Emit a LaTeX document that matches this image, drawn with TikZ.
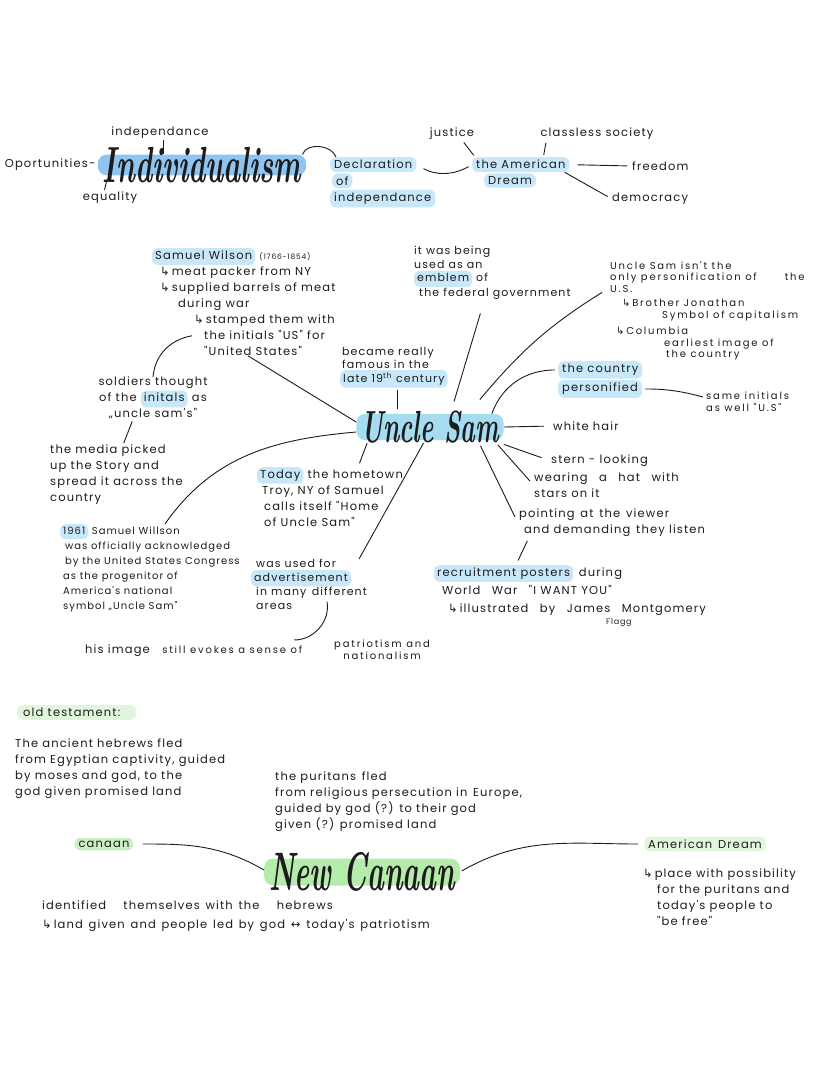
\documentclass[tikz,border=0pt]{standalone}
\usepackage{fontspec}
\usetikzlibrary{positioning}
\newfontfamily\handfont[LetterSpace=10.0]{Poppins}
\newfontfamily\widehand[LetterSpace=18.0]{Poppins}
\newfontfamily\arrowfont{DejaVu Sans}
\definecolor{inkDark}{HTML}{1C1C1C}
\definecolor{hlBlue}{HTML}{C8E7F8}
\definecolor{hlDeep}{HTML}{8FC4F1}
\definecolor{hlCyan}{HTML}{A6DCF2}
\definecolor{hlGreen}{HTML}{B6ECAB}
\definecolor{hlMint}{HTML}{C9F0C2}
\definecolor{hlPale}{HTML}{E2F6DE}
\newcommand{\hilite}[2][hlBlue]{\tikz[baseline]\node[anchor=base,fill=#1,rounded corners=5pt,inner xsep=3pt,inner ysep=2.5pt,text=inkDark]{\vphantom{Ay}#2};}
\newcommand{\turnarr}{{\arrowfont ↳}\,}
\newcommand{\tallword}[2]{\scalebox{1}[#1]{#2}}
\tikzset{
  note/.style={font=\handfont\fontsize{11.5}{16}\selectfont, text=inkDark, align=left, inner sep=0pt, anchor=north west},
  tight note/.style={note, font=\handfont\fontsize{11}{13.5}\selectfont},
  dense note/.style={note, font=\widehand\fontsize{10}{11.5}\selectfont},
  hlnode/.style={note, fill=hlBlue, rounded corners=6pt, inner xsep=4pt, inner ysep=3pt},
  headline/.style={font=\rmfamily\bfseries\itshape\fontsize{#1}{#1}\selectfont, text=inkDark, rounded corners=9pt, inner xsep=5pt},
  link/.style={draw=inkDark, line width=0.9pt},
}
\begin{document}
\begin{tikzpicture}[x=1pt,y=-1pt]
\fill[white] (0,0) rectangle (828,1069);
\useasboundingbox (0,0) rectangle (828,1069);

% individualism and the american dream
\node[headline=29, fill=hlDeep, inner ysep=-7.5pt] (indiv) at (202,165) {\tallword{1.75}{Individualism}};
\node[note, anchor=center] (indep) at (160,133) {independance};
\node[note, anchor=east, xshift=-2pt] (opport) at (indiv.west) {Oportunities-};
\node[note, anchor=center] (equal) at (110,198) {equality};
\node[hlnode] (declA) at (330,157) {Declaration};
\node[hlnode, below=1pt of declA.south west, anchor=north west, xshift=2pt] (declB) {of};
\node[hlnode, below=1pt of declB.south west, anchor=north west, xshift=-2pt] (declC) {independance};
\node[hlnode] (dreamA) at (472,157) {the American};
\node[hlnode, below=1pt of dreamA.south west, anchor=north west, xshift=12pt] (dreamB) {Dream};
\node[note, anchor=center] (justice) at (452,134) {justice};
\node[note, anchor=center] (classless) at (597,134) {classless society};
\node[note, anchor=west] (freedom) at (632,166) {freedom};
\node[note, anchor=west] (democracy) at (612,199) {democracy};

\draw[link, shorten <=1pt] ([xshift=3pt]indep.south) -- ([xshift=3pt]indep.south |- indiv.north);
\draw[link, shorten <=2pt, shorten >=6pt] ([xshift=-6pt]equal.north) -- ([xshift=-2pt]equal.north |- indiv.south);
\draw[link] ([xshift=-4pt]indiv.north east) to[out=70,in=110] ([xshift=6pt]declA.north west);
\draw[link, shorten <=8pt, shorten >=4pt] (declA.east) to[out=-30,in=210] (dreamA.west);
\draw[link, shorten <=3pt, shorten >=2pt] ([xshift=10pt]justice.south) -- ([xshift=3pt]dreamA.north west);
\draw[link, shorten <=3pt, shorten >=2pt] ([xshift=6pt]classless.south west) -- ([xshift=3pt]classless.south west |- dreamA.north);
\draw[link, shorten <=8pt, shorten >=5pt] (dreamA.east) -- (freedom.west);
\draw[link, shorten >=5pt] ([xshift=-5pt]dreamA.south east) -- (democracy.west);

% uncle sam
\node[headline=25, fill=hlCyan, inner ysep=-3pt] (uncle) at (430,427) {\tallword{1.8}{Uncle Sam}};
\node[note] (wilson) at (152,248) {\hilite{Samuel Wilson} {\fontsize{7.5}{8}\selectfont(1766-1854)}\\
  \hspace*{8pt}\turnarr meat packer from NY\\
  \hspace*{8pt}\turnarr supplied barrels of meat\\
  \hspace*{26pt}during war\\
  \hspace*{42pt}\turnarr stamped them with\\
  \hspace*{52pt}the initials "US" for\\
  \hspace*{52pt}"United States"};
\node[note, align=center, anchor=north] (soldiers) at (153,377) {soldiers thought\\of the \hilite{initals} as\\„uncle sam's"};
\node[note] (media) at (50,445) {the media picked\\up the Story and\\spread it across the\\country};
\node[tight note] (famous) at (340,347) {\hspace*{2pt}became really\\\hspace*{2pt}famous in the\\\hilite{late 19\textsuperscript{th} century}};
\node[tight note] (emblem) at (414,246) {it was being\\used as an\\\hilite{emblem} of\\\hspace*{5pt}the federal government};
\node[dense note] (isnt) at (610,261) {Uncle Sam isn't the\\only personification of\hspace{28pt}the\\U.S.};
\node[dense note] (brother) at (622,299) {\turnarr Brother Jonathan\\\hspace*{40pt}Symbol of capitalism};
\node[dense note] (columbia) at (616,327) {\turnarr Columbia\\\hspace*{48pt}earliest image of\\\hspace*{50pt}the country};
\node[hlnode] (countryA) at (558,361) {the country};
\node[hlnode, below=1pt of countryA.south west, anchor=north west] (countryB) {personified};
\node[dense note] (same) at (706,392) {same initials\\as well "U.S"};
\node[note, anchor=west] (white) at (553,426) {white hair};
\node[note, anchor=west] (stern) at (551,461) {stern - looking};
\node[note] (hat) at (534,473) {wearing\quad a\quad hat\quad with\\stars on it};
\node[note] (point) at (519,509) {pointing\enspace at\enspace the\enspace viewer\\\hspace*{5pt}and demanding\enspace they listen};
\node[note] (recruit) at (434,565) {\hilite{recruitment posters}\enspace during\\[2pt]
  \hspace*{8pt}World\quad War\quad "I WANT YOU"\\[2pt]
  \hspace*{14pt}\turnarr illustrated\quad by\quad James\quad Montgomery\\[-4pt]
  \hspace*{172pt}{\fontsize{8}{9}\selectfont Flagg}};
\node[note] (today) at (257,467) {\hilite{Today} the hometown\\\hspace*{5pt}Troy, NY of Samuel\\\hspace*{7pt}calls itself "Home\\\hspace*{7pt}of Uncle Sam"};
\node[tight note] (advert) at (251,559) {\hspace*{5pt}was used for\\\hilite{advertisement}\\\hspace*{5pt}in many\enspace different\\\hspace*{5pt}areas};
\node[note, font=\handfont\fontsize{10}{15}\selectfont] (settle) at (60,524) {\hilite{1961} Samuel Willson\\
  \hspace*{5pt}was officially acknowledged\\
  \hspace*{5pt}by the United States Congress\\
  \hspace*{3pt}as the progenitor of\\
  \hspace*{3pt}America's national\\
  \hspace*{3pt}symbol „Uncle Sam"};
\node[note, anchor=west] (hisA) at (85,651) {his image};
\node[dense note, right=12pt of hisA.base east, anchor=base west] (hisB) {still evokes a sense of};
\node[dense note, align=center, anchor=north] (hisC) at (382,640) {patriotism and\\nationalism};

\draw[link] ([xshift=4pt]wilson.south) -- ([yshift=5pt]uncle.west);
\draw[link] ([shift={(40pt,20pt)}]wilson.south west) to[out=190,in=85] (soldiers.north);
\draw[link, shorten <=2pt, shorten >=2pt] ([xshift=-20pt]soldiers.south) -- ([xshift=73pt]media.north west);
\draw[link, shorten <=2pt, shorten >=5pt] ([xshift=4pt]famous.south) -- ([xshift=4pt]famous.south |- uncle.north);
\draw[link] ([xshift=-12pt,yshift=-14pt]emblem.south) -- ([xshift=24pt,yshift=12pt]uncle.north);
\draw[link] ([xshift=-8pt]isnt.south west) to[out=212,in=50] ([xshift=-24pt,yshift=14pt]uncle.north east);
\draw[link, shorten >=3pt] ([xshift=-12pt]uncle.north east) to[out=70,in=180] (countryA.west);
\draw[link, shorten <=3pt, shorten >=3pt] (countryB.east) to[out=0,in=165] ([yshift=4pt]same.west);
\draw[link, shorten >=9pt] (uncle.east) -- (white.west);
\draw[link, shorten >=10pt] ([yshift=-4pt]uncle.south east) -- (stern.west);
\draw[link, shorten <=6pt, shorten >=6pt] ([xshift=-10pt]uncle.south east) -- (hat.west);
\draw[link, shorten <=6pt] ([xshift=-26pt]uncle.south east) -- ([xshift=-4pt,yshift=-8pt]point.north west);
\draw[link, shorten <=4pt, shorten >=5pt] ([xshift=10pt]point.south west) -- ([xshift=82pt]recruit.north west);
\draw[link, shorten <=4pt, shorten >=3pt] ([xshift=28pt]today.north) -- ([xshift=12pt]uncle.south west);
\draw[link, shorten <=3pt] ([xshift=-5pt]uncle.south) -- ([xshift=-8pt]advert.north east);
\draw[link] ([shift={(18pt,8pt)}]advert.south) to[out=-80,in=0] ([shift={(-8pt,6pt)}]hisB.north east);
\draw[link] ([yshift=-5pt]uncle.west) to[out=185,in=55] ([xshift=15pt]settle.north);

% new canaan
\node[hlnode, fill=hlPale, inner xsep=6pt] (oldt) at (17,705) {old testament:\hspace*{10pt}};
\node[note] (hebrews) at (15,739) {The ancient hebrews fled\\from Egyptian captivity, guided\\by moses and god, to the\\god given promised land};
\node[note] (puritans) at (275,772) {the puritans\enspace fled\\from religious persecution in\enspace Europe,\\guided by god (?) to their god\\given (?) promised land};
\node[hlnode, fill=hlMint, anchor=center] (canaan) at (104,844) {canaan};
\node[headline=28.5, fill=hlGreen, inner ysep=-6pt] (newcanaan) at (362,872) {\tallword{1.9}{New Canaan}};
\node[hlnode, fill=hlPale, anchor=center] (amdream) at (705,844) {American\enspace Dream};
\node[note] (place) at (643,869) {\turnarr place with possibility\\\hspace*{14pt}for the puritans and\\\hspace*{14pt}today's people to\\\hspace*{14pt}"be free"};
\node[note] (ident) at (42,901) {identified\quad\enspace themselves\enspace with\enspace the\quad\enspace hebrews\\[3pt]\turnarr land\enspace given\enspace and\enspace people\enspace led\enspace by\enspace god\enspace{\arrowfont ↔}\enspace today's\enspace patriotism};

\draw[link, shorten <=9pt] (canaan.east) to[out=0,in=150] ([yshift=2pt]newcanaan.west);
\draw[link, shorten <=2pt, shorten >=6pt] (newcanaan.east) to[out=30,in=180] (amdream.west);
\end{tikzpicture}
\end{document}
